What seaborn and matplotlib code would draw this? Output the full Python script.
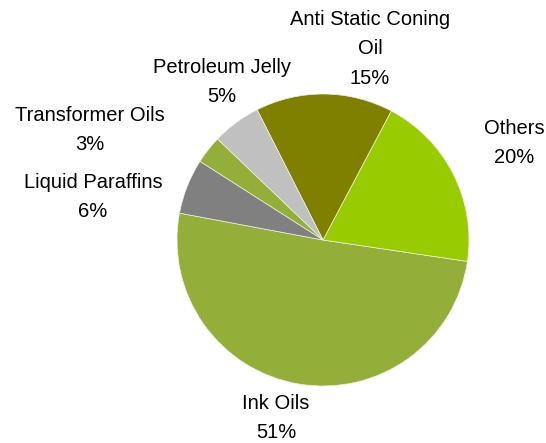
import matplotlib
matplotlib.use("Agg")
import matplotlib.pyplot as plt
import seaborn as sns

categories = ["Ink Oils", "Others", "Anti Static Coning\nOil", "Petroleum Jelly",
              "Transformer Oils", "Liquid Paraffins"]
shares = [50.6, 19.6, 15.2, 5.4, 3.1, 6.1]
colors = ["#93AE39", "#99CC00", "#808000", "#C0C0C0", "#93AE39", "#808080"]

# label centres (pixel positions of text blocks in the 546x443 canvas)
label_px = [(276, 418), (514, 143), (370, 49), (222, 82), (90, 130), (93, 197)]

sns.set_theme(style="white")
plt.rcParams["font.family"] = ["Liberation Sans", "DejaVu Sans"]

W, H = 546, 443
fig = plt.figure(figsize=(W / 100, H / 100), dpi=100)
ax = fig.add_axes([0, 0, 1, 1])

cx, cy, R = 323, 240, 146
ax.pie(shares, colors=colors, startangle=169.4, counterclock=True,
       radius=1.0, center=(0, 0),
       wedgeprops=dict(edgecolor="#EEF2E2", linewidth=0.5))

ax.set_xlim(-cx / R, (W - cx) / R)
ax.set_ylim(-(H - cy) / R, cy / R)
ax.set_aspect("equal")
ax.axis("off")

for name, val, (px, py) in zip(categories, shares, label_px):
    x = (px - cx) / R
    y = (cy - py) / R
    ax.text(x, y, f"{name}\n{round(val)}%", ha="center", va="center",
            fontsize=14.5, color="black", linespacing=1.7)

fig.savefig("out.png", dpi=100)
